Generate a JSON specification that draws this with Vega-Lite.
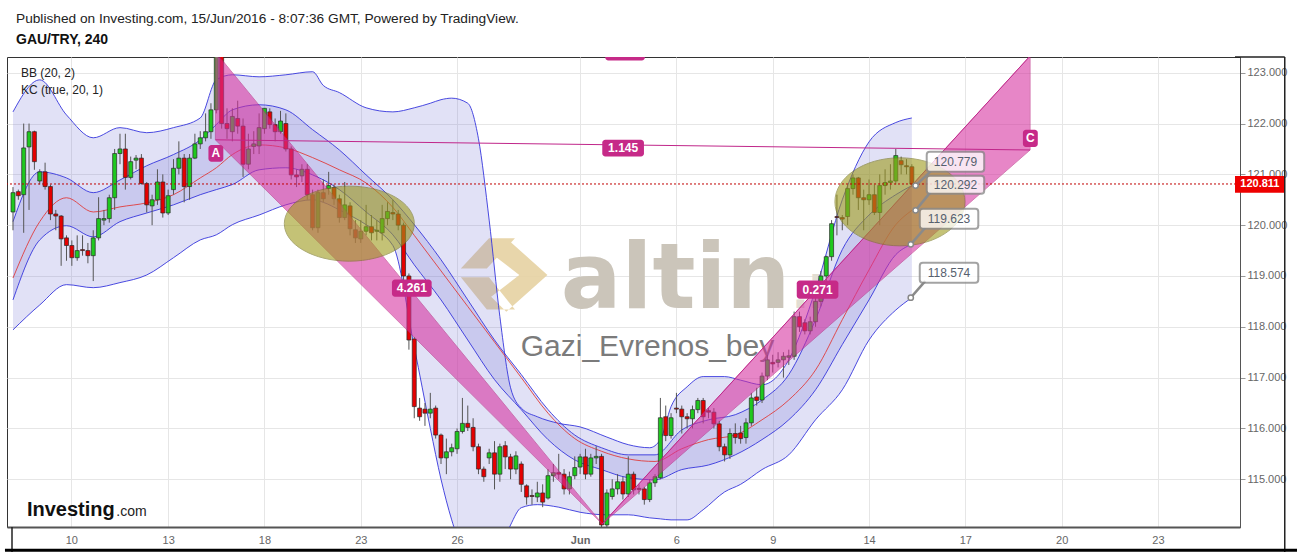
{
"$schema":"https://vega.github.io/schema/vega-lite/v6.json",
"width":1233,"height":470,
"autosize":{"type":"none"},
"padding":{"left":7,"top":57,"right":57,"bottom":25},
"background":"white",
"config":{"font":"Liberation Sans","view":{"stroke":"#333","strokeWidth":1}},
"title":{"text":"Published on Investing.com, 15/Jun/2016 - 8:07:36 GMT, Powered by TradingView.","subtitle":"GAU/TRY, 240","anchor":"start","frame":"group","dx":9,"offset":9,"fontSize":13.7,"fontWeight":"normal","font":"Liberation Sans","color":"#222","subtitleFontSize":14,"subtitleFontWeight":"bold","subtitleFont":"Liberation Sans","subtitleColor":"#111","subtitlePadding":8},
"datasets":{
"candles":[
{"i":0,"o":120.26,"h":120.75,"l":119.9,"c":120.64},{"i":1,"o":120.66,"h":120.7,"l":120.5,"c":120.58},{"i":2,"o":120.6,"h":122.0,"l":119.85,"c":121.52},{"i":3,"o":121.54,"h":122.0,"l":120.3,"c":121.84},{"i":4,"o":121.84,"h":121.86,"l":121.09,"c":121.25},{"i":5,"o":120.87,"h":121.1,"l":120.8,"c":121.05},{"i":6,"o":121.05,"h":121.23,"l":120.7,"c":120.76},{"i":7,"o":120.76,"h":120.8,"l":120.1,"c":120.22},{"i":8,"o":120.22,"h":120.3,"l":119.9,"c":120.18},{"i":9,"o":120.18,"h":120.2,"l":119.2,"c":119.73},
{"i":10,"o":119.75,"h":119.8,"l":119.3,"c":119.6},{"i":11,"o":119.6,"h":119.7,"l":119.2,"c":119.36},{"i":12,"o":119.36,"h":119.8,"l":119.3,"c":119.5},{"i":13,"o":119.52,"h":119.8,"l":119.4,"c":119.5},{"i":14,"o":119.5,"h":119.65,"l":119.25,"c":119.4},{"i":15,"o":119.4,"h":119.9,"l":118.9,"c":119.75},{"i":16,"o":119.75,"h":120.55,"l":119.7,"c":120.13},{"i":17,"o":120.1,"h":120.3,"l":120.0,"c":120.13},{"i":18,"o":120.13,"h":120.6,"l":120.05,"c":120.54},{"i":19,"o":120.54,"h":121.5,"l":120.3,"c":121.41},
{"i":20,"o":121.41,"h":121.8,"l":121.2,"c":121.5},{"i":21,"o":121.5,"h":121.8,"l":120.7,"c":120.94},{"i":22,"o":120.94,"h":121.35,"l":120.9,"c":121.25},{"i":23,"o":121.28,"h":121.38,"l":121.1,"c":121.32},{"i":24,"o":121.32,"h":121.4,"l":120.8,"c":120.82},{"i":25,"o":120.82,"h":120.85,"l":120.25,"c":120.4},{"i":26,"o":120.38,"h":120.6,"l":120.0,"c":120.5},{"i":27,"o":120.5,"h":121.1,"l":120.4,"c":120.85},{"i":28,"o":120.85,"h":121.0,"l":120.15,"c":120.24},{"i":29,"o":120.24,"h":120.7,"l":120.2,"c":120.58},
{"i":30,"o":120.7,"h":121.3,"l":120.6,"c":121.12},{"i":31,"o":121.12,"h":121.65,"l":121.0,"c":121.32},{"i":32,"o":121.32,"h":121.4,"l":120.45,"c":120.76},{"i":33,"o":120.76,"h":121.4,"l":120.5,"c":121.32},{"i":34,"o":121.32,"h":121.8,"l":121.3,"c":121.6},{"i":35,"o":121.6,"h":121.85,"l":121.5,"c":121.72},{"i":36,"o":121.72,"h":122.2,"l":121.65,"c":121.84},{"i":37,"o":121.84,"h":122.4,"l":121.7,"c":122.27},{"i":38,"o":122.27,"h":123.5,"l":122.2,"c":123.35},{"i":39,"o":123.35,"h":123.5,"l":121.9,"c":122.0},
{"i":40,"o":122.0,"h":122.3,"l":121.7,"c":121.9},{"i":41,"o":121.84,"h":122.3,"l":121.65,"c":122.14},{"i":42,"o":122.1,"h":122.45,"l":121.8,"c":121.95},{"i":43,"o":121.95,"h":122.1,"l":120.95,"c":121.2},{"i":44,"o":121.2,"h":121.8,"l":121.1,"c":121.5},{"i":45,"o":121.55,"h":121.85,"l":121.4,"c":121.6},{"i":46,"o":121.56,"h":122.2,"l":121.4,"c":121.92},{"i":47,"o":121.9,"h":122.3,"l":121.8,"c":122.3},{"i":48,"o":122.23,"h":122.3,"l":121.9,"c":121.98},{"i":49,"o":121.98,"h":122.1,"l":121.65,"c":121.84},
{"i":50,"o":121.84,"h":122.25,"l":121.8,"c":122.05},{"i":51,"o":122.0,"h":122.2,"l":121.45,"c":121.5},{"i":52,"o":121.5,"h":121.55,"l":120.9,"c":120.99},{"i":53,"o":120.99,"h":121.1,"l":120.75,"c":120.95},{"i":54,"o":120.97,"h":121.2,"l":120.85,"c":121.1},{"i":55,"o":121.1,"h":121.2,"l":120.5,"c":120.6},{"i":56,"o":120.6,"h":120.7,"l":119.9,"c":119.95},{"i":57,"o":119.95,"h":120.7,"l":119.85,"c":120.64},{"i":58,"o":120.64,"h":120.9,"l":120.45,"c":120.52},{"i":59,"o":120.72,"h":121.05,"l":120.6,"c":120.78},
{"i":60,"o":120.74,"h":120.8,"l":120.4,"c":120.52},{"i":61,"o":120.52,"h":120.6,"l":120.05,"c":120.15},{"i":62,"o":120.15,"h":120.85,"l":120.1,"c":120.4},{"i":63,"o":120.38,"h":120.45,"l":119.8,"c":119.93},{"i":64,"o":119.91,"h":120.1,"l":119.65,"c":119.75},{"i":65,"o":119.73,"h":120.1,"l":119.65,"c":119.88},{"i":66,"o":119.88,"h":120.4,"l":119.8,"c":119.97},{"i":67,"o":119.97,"h":120.2,"l":119.7,"c":119.85},{"i":68,"o":119.88,"h":120.1,"l":119.7,"c":119.9},{"i":69,"o":119.85,"h":120.4,"l":119.7,"c":120.13},
{"i":70,"o":120.13,"h":120.45,"l":120.0,"c":120.27},{"i":71,"o":120.25,"h":120.5,"l":120.1,"c":120.22},{"i":72,"o":120.22,"h":120.3,"l":119.9,"c":120.0},{"i":73,"o":120.0,"h":120.05,"l":118.9,"c":119.0},{"i":74,"o":119.0,"h":119.05,"l":117.55,"c":117.74},{"i":75,"o":117.76,"h":117.8,"l":116.2,"c":116.43},{"i":76,"o":116.4,"h":116.6,"l":116.15,"c":116.23},{"i":77,"o":116.38,"h":116.5,"l":116.05,"c":116.3},{"i":78,"o":116.3,"h":116.7,"l":116.2,"c":116.38},{"i":79,"o":116.4,"h":116.45,"l":115.8,"c":115.87},
{"i":80,"o":115.87,"h":115.9,"l":115.3,"c":115.42},{"i":81,"o":115.42,"h":115.8,"l":115.1,"c":115.54},{"i":82,"o":115.54,"h":115.7,"l":115.45,"c":115.62},{"i":83,"o":115.6,"h":116.0,"l":115.5,"c":115.94},{"i":84,"o":115.94,"h":116.6,"l":115.9,"c":116.1},{"i":85,"o":116.1,"h":116.45,"l":115.95,"c":116.02},{"i":86,"o":116.02,"h":116.2,"l":115.55,"c":115.64},{"i":87,"o":115.64,"h":115.7,"l":115.1,"c":115.2},{"i":88,"o":115.2,"h":115.25,"l":114.95,"c":115.05},{"i":89,"o":115.42,"h":115.6,"l":115.3,"c":115.52},
{"i":90,"o":115.52,"h":115.75,"l":114.8,"c":115.1},{"i":91,"o":115.1,"h":115.7,"l":114.95,"c":115.64},{"i":92,"o":115.66,"h":115.75,"l":115.2,"c":115.44},{"i":93,"o":115.44,"h":115.5,"l":115.0,"c":115.2},{"i":94,"o":115.2,"h":115.55,"l":115.1,"c":115.46},{"i":95,"o":115.3,"h":115.35,"l":114.75,"c":114.9},{"i":96,"o":114.87,"h":114.9,"l":114.5,"c":114.65},{"i":97,"o":114.68,"h":114.8,"l":114.5,"c":114.66},{"i":98,"o":114.65,"h":114.95,"l":114.55,"c":114.73},{"i":99,"o":114.73,"h":114.9,"l":114.45,"c":114.55},
{"i":100,"o":114.63,"h":115.2,"l":114.6,"c":115.07},{"i":101,"o":115.07,"h":115.3,"l":114.95,"c":115.13},{"i":102,"o":115.13,"h":115.5,"l":115.0,"c":115.1},{"i":103,"o":115.1,"h":115.2,"l":114.7,"c":114.81},{"i":104,"o":114.81,"h":115.15,"l":114.7,"c":115.05},{"i":105,"o":115.07,"h":115.45,"l":115.0,"c":115.23},{"i":106,"o":115.24,"h":115.5,"l":115.1,"c":115.44},{"i":107,"o":115.44,"h":115.6,"l":115.0,"c":115.1},{"i":108,"o":115.1,"h":115.5,"l":115.05,"c":115.42},{"i":109,"o":115.42,"h":115.65,"l":115.3,"c":115.45},
{"i":110,"o":115.45,"h":115.5,"l":114.0,"c":114.1},{"i":111,"o":114.1,"h":114.8,"l":114.0,"c":114.73},{"i":112,"o":114.66,"h":115.0,"l":114.6,"c":114.81},{"i":113,"o":114.81,"h":115.1,"l":114.7,"c":114.95},{"i":114,"o":114.95,"h":115.05,"l":114.6,"c":114.71},{"i":115,"o":114.71,"h":115.45,"l":114.65,"c":115.1},{"i":116,"o":115.1,"h":115.15,"l":114.7,"c":114.79},{"i":117,"o":114.82,"h":114.9,"l":114.7,"c":114.8},{"i":118,"o":114.81,"h":114.85,"l":114.5,"c":114.6},{"i":119,"o":114.6,"h":115.0,"l":114.55,"c":114.93},
{"i":120,"o":114.93,"h":115.1,"l":114.85,"c":115.05},{"i":121,"o":115.03,"h":116.6,"l":115.0,"c":116.21},{"i":122,"o":116.23,"h":116.45,"l":115.75,"c":115.86},{"i":123,"o":115.86,"h":116.3,"l":115.8,"c":116.21},{"i":124,"o":116.4,"h":116.7,"l":116.3,"c":116.38},{"i":125,"o":116.38,"h":116.45,"l":115.9,"c":116.23},{"i":126,"o":116.23,"h":116.3,"l":116.0,"c":116.19},{"i":127,"o":116.19,"h":116.45,"l":116.0,"c":116.37},{"i":128,"o":116.37,"h":116.6,"l":116.3,"c":116.55},{"i":129,"o":116.55,"h":116.6,"l":116.1,"c":116.23},
{"i":130,"o":116.35,"h":116.4,"l":116.2,"c":116.32},{"i":131,"o":116.32,"h":116.4,"l":116.0,"c":116.09},{"i":132,"o":116.09,"h":116.15,"l":115.55,"c":115.64},{"i":133,"o":115.64,"h":115.7,"l":115.35,"c":115.48},{"i":134,"o":115.48,"h":116.0,"l":115.4,"c":115.9},{"i":135,"o":115.9,"h":116.1,"l":115.7,"c":115.82},{"i":136,"o":115.91,"h":116.05,"l":115.7,"c":115.8},{"i":137,"o":115.82,"h":116.2,"l":115.7,"c":116.11},{"i":138,"o":116.11,"h":116.7,"l":116.05,"c":116.6},{"i":139,"o":116.62,"h":116.8,"l":116.45,"c":116.55},
{"i":140,"o":116.56,"h":117.1,"l":116.5,"c":117.03},{"i":141,"o":117.03,"h":117.45,"l":116.95,"c":117.35},{"i":142,"o":117.3,"h":117.45,"l":117.1,"c":117.27},{"i":143,"o":117.3,"h":117.5,"l":117.2,"c":117.35},{"i":144,"o":117.35,"h":117.5,"l":117.0,"c":117.42},{"i":145,"o":117.4,"h":117.55,"l":117.25,"c":117.43},{"i":146,"o":117.42,"h":118.3,"l":117.35,"c":118.2},{"i":147,"o":118.2,"h":118.3,"l":117.9,"c":118.0},{"i":148,"o":118.08,"h":118.15,"l":117.85,"c":117.92},{"i":149,"o":117.92,"h":118.2,"l":117.85,"c":118.1},
{"i":150,"o":118.1,"h":118.6,"l":118.0,"c":118.5},{"i":151,"o":118.5,"h":119.1,"l":118.4,"c":119.0},{"i":152,"o":119.0,"h":119.4,"l":118.9,"c":119.38},{"i":153,"o":119.38,"h":120.1,"l":119.3,"c":120.03},{"i":154,"o":120.17,"h":120.6,"l":119.8,"c":120.15},{"i":155,"o":120.15,"h":120.2,"l":119.9,"c":120.12},{"i":156,"o":120.17,"h":120.8,"l":120.0,"c":120.72},{"i":157,"o":120.72,"h":121.0,"l":120.6,"c":120.93},{"i":158,"o":120.93,"h":120.95,"l":120.3,"c":120.54},{"i":159,"o":120.54,"h":120.7,"l":119.9,"c":120.5},
{"i":160,"o":120.5,"h":120.9,"l":120.4,"c":120.6},{"i":161,"o":120.6,"h":120.8,"l":120.2,"c":120.25},{"i":162,"o":120.25,"h":121.0,"l":120.0,"c":120.78},{"i":163,"o":120.78,"h":121.1,"l":120.6,"c":120.84},{"i":164,"o":120.84,"h":121.2,"l":120.7,"c":120.87},{"i":165,"o":120.87,"h":121.5,"l":120.8,"c":121.37},{"i":166,"o":121.27,"h":121.35,"l":121.0,"c":121.19},{"i":167,"o":121.17,"h":121.3,"l":121.0,"c":121.15},{"i":168,"o":121.15,"h":121.2,"l":120.75,"c":120.81}
],
"bb":[
{"i":0,"u":122.23,"l":117.94},{"i":5,"u":122.86,"l":118.43},{"i":10,"u":122.17,"l":118.83},{"i":15,"u":121.72,"l":118.77},{"i":20,"u":121.92,"l":118.87},{"i":25,"u":121.82,"l":119.02},{"i":30,"u":121.92,"l":119.36},{"i":35,"u":122.11,"l":119.71},{"i":38,"u":122.86,"l":119.81},{"i":41,"u":122.96,"l":120.01},{"i":46,"u":122.92,"l":120.2},{"i":51,"u":122.96,"l":120.4},{"i":56,"u":123.02,"l":120.5},{"i":58,"u":122.75,"l":120.45},{"i":61,"u":122.61,"l":120.3},{"i":66,"u":122.31,"l":120.01},{"i":71,"u":122.23,"l":119.6},{"i":75,"u":122.31,"l":117.6},{"i":78,"u":122.4,"l":116.0},{"i":80,"u":122.47,"l":115.0},{"i":82,"u":122.5,"l":114.2},{"i":85,"u":122.4,"l":113.4},{"i":87,"u":121.7,"l":113.3},{"i":89,"u":120.1,"l":113.3},{"i":91,"u":118.2,"l":113.6},{"i":93,"u":116.8,"l":114.1},{"i":95,"u":116.4,"l":114.44},{"i":98,"u":116.23,"l":114.5},{"i":102,"u":116.1,"l":114.45},{"i":106,"u":116.03,"l":114.35},{"i":111,"u":115.83,"l":114.3},{"i":115,"u":115.68,"l":114.3},{"i":119,"u":115.62,"l":114.24},{"i":121,"u":115.78,"l":114.22},{"i":123,"u":116.43,"l":114.2},{"i":126,"u":116.82,"l":114.2},{"i":129,"u":117.02,"l":114.4},{"i":133,"u":117.02,"l":114.75},{"i":136,"u":116.95,"l":114.9},{"i":140,"u":116.86,"l":115.19},{"i":145,"u":117.35,"l":115.48},{"i":150,"u":118.73,"l":116.17},{"i":155,"u":120.5,"l":116.76},{"i":160,"u":121.64,"l":117.74},{"i":165,"u":122.02,"l":118.33},{"i":168,"u":122.11,"l":118.574}
],
"kc":[
{"i":0,"u":120.07,"m":118.96,"l":118.53},{"i":5,"u":121.05,"m":120.07,"l":119.71},{"i":10,"u":120.93,"m":120.54,"l":119.99},{"i":15,"u":120.64,"m":120.26,"l":119.77},{"i":20,"u":120.89,"m":120.36,"l":120.07},{"i":25,"u":121.17,"m":120.44,"l":120.24},{"i":30,"u":121.39,"m":120.6,"l":120.4},{"i":35,"u":121.68,"m":120.93,"l":120.6},{"i":38,"u":121.98,"m":121.13,"l":120.7},{"i":41,"u":122.27,"m":121.39,"l":120.8},{"i":46,"u":122.37,"m":121.58,"l":121.09},{"i":51,"u":122.27,"m":121.52,"l":121.13},{"i":56,"u":121.88,"m":121.33,"l":120.99},{"i":61,"u":121.48,"m":121.09,"l":120.7},{"i":66,"u":120.99,"m":120.83,"l":120.26},{"i":71,"u":120.5,"m":120.35,"l":119.81},{"i":75,"u":120.01,"m":119.8,"l":119.22},{"i":80,"u":119.32,"m":119.1,"l":118.53},{"i":85,"u":118.53,"m":118.4,"l":117.74},{"i":90,"u":117.74,"m":117.7,"l":116.96},{"i":95,"u":117.06,"m":117.0,"l":116.37},{"i":100,"u":116.37,"m":116.3,"l":115.78},{"i":105,"u":115.87,"m":115.8,"l":115.38},{"i":110,"u":115.62,"m":115.55,"l":115.19},{"i":115,"u":115.48,"m":115.4,"l":115.03},{"i":120,"u":115.48,"m":115.35,"l":114.99},{"i":125,"u":115.97,"m":115.6,"l":115.19},{"i":130,"u":116.17,"m":115.78,"l":115.28},{"i":135,"u":116.27,"m":115.87,"l":115.48},{"i":140,"u":116.56,"m":116.17,"l":115.78},{"i":145,"u":117.06,"m":116.56,"l":116.17},{"i":150,"u":118.14,"m":117.15,"l":116.76},{"i":155,"u":119.52,"m":118.14,"l":117.65},{"i":160,"u":120.2,"m":119.12,"l":118.53},{"i":165,"u":120.6,"m":120.01,"l":119.42},{"i":168,"u":120.779,"m":120.292,"l":119.623}
],
"tri":[
{"g":"XAB","i":37.83,"hi":123.41,"lo":121.68},{"g":"XAB","i":110.14,"hi":114.12,"lo":114.12},
{"g":"BCD","i":110.14,"hi":114.12,"lo":114.12},{"g":"BCD","i":190.1,"hi":123.33,"lo":121.48}
],
"plines":[
{"i":37.83,"p":121.68,"i2":190.1,"p2":121.48},
{"i":110.14,"p":114.12,"i2":190.1,"p2":123.33}
],
"plabels":[
{"t":"4.261","i0":70.83,"i1":78.25,"p0":118.59,"p1":118.93,"i":74.54,"p":118.76},
{"t":"1.145","i0":110.14,"i1":117.93,"p0":121.35,"p1":121.68,"i":114.04,"p":121.51},
{"t":"0.271","i0":146.49,"i1":154.27,"p0":118.55,"p1":118.91,"i":150.38,"p":118.73},
{"t":"A","i0":36.53,"i1":39.31,"p0":121.25,"p1":121.58,"i":37.92,"p":121.42},
{"t":"C","i0":188.76,"i1":191.54,"p0":121.54,"p1":121.88,"i":190.15,"p":121.71},
{"t":"1.003","i0":110.7,"i1":118.1,"p0":123.24,"p1":123.57,"i":114.4,"p":123.4}
],
"callouts":[
{"t":"120.779","v":120.779,"di":168.7,"li":171.5,"lp":121.06,"i0":170.78,"i1":181.53,"p0":121.051,"p1":121.445,"i":176.16,"p":121.25},
{"t":"120.292","v":120.292,"di":168.7,"li":171.5,"lp":120.65,"i0":170.78,"i1":181.53,"p0":120.618,"p1":120.972,"i":176.16,"p":120.795},
{"t":"119.623","v":119.623,"di":167.8,"li":170.5,"lp":119.95,"i0":169.48,"i1":180.42,"p0":119.929,"p1":120.323,"i":174.95,"p":120.126},
{"t":"118.574","v":118.574,"di":167.8,"li":170.5,"lp":118.9,"i0":169.48,"i1":180.42,"p0":118.866,"p1":119.26,"i":174.95,"p":119.063}
]
},
"layer":[
{"data":{"values":[{"i":102.4,"p":118.37,"t":"altin"}]},
 "mark":{"type":"text","fontSize":90,"font":"DejaVu Sans","fontWeight":"bold","color":"#cbc5ba","align":"left","baseline":"alphabetic"},
 "encoding":{"x":{"field":"i","type":"quantitative","scale":{"domain":[-0.185,228.4],"nice":false,"zero":false},
   "axis":{"values":[10.9,29,47,65,83,106,124,142,160,178,196,214],"labelExpr":"datum.value < 20 ? '10' : datum.value < 38 ? '13' : datum.value < 56 ? '18' : datum.value < 74 ? '23' : datum.value < 94 ? '26' : datum.value < 115 ? 'Jun' : datum.value < 133 ? '6' : datum.value < 151 ? '9' : datum.value < 169 ? '14' : datum.value < 187 ? '17' : datum.value < 205 ? '20' : '23'","title":null,"grid":true,"gridColor":"#e6e6e6","ticks":false,"domainColor":"#555","domainWidth":2,"labelColor":"#666","labelFontSize":11,"labelPadding":7,"labelFontWeight":{"condition":{"test":"datum.value == 106","value":"bold"},"value":"normal"}}},
  "y":{"field":"p","type":"quantitative","scale":{"domain":[114.06,123.31],"nice":false,"zero":false},
   "axis":{"orient":"right","values":[115,116,117,118,119,120,121,122,123],"format":".3f","title":null,"grid":true,"gridColor":"#e6e6e6","tickSize":5,"tickColor":"#999","domainColor":"#555","labelColor":"#666","labelFontSize":11,"labelPadding":2}},
  "text":{"field":"t"}}},
{"data":{"values":[{"i":145.6,"p":118.37,"t":".i"}]},
 "mark":{"type":"text","fontSize":44,"font":"DejaVu Sans","fontWeight":"bold","color":"#e2ddd2","align":"left","baseline":"alphabetic"},
 "encoding":{"x":{"field":"i","type":"quantitative","scale":{"domain":[-0.185,228.4],"nice":false,"zero":false}},
  "y":{"field":"p","type":"quantitative","scale":{"domain":[114.06,123.31],"nice":false,"zero":false}},
  "text":{"field":"t"}}},
{"data":{"values":[{"i":94.9,"p":117.43,"t":"Gazi_Evrenos_bey"}]},
 "mark":{"type":"text","fontSize":30,"color":"#7b7b7b","align":"left","baseline":"alphabetic"},
 "encoding":{"x":{"field":"i","type":"quantitative","scale":{"domain":[-0.185,228.4],"nice":false,"zero":false}},
  "y":{"field":"p","type":"quantitative","scale":{"domain":[114.06,123.31],"nice":false,"zero":false}},
  "text":{"field":"t"}}},
{"data":{"values":[{"i":91.8,"p":119.02}]},
 "mark":{"type":"point","shape":"M-1,-0.15L-0.35,-0.85L0.25,-0.85L-0.4,-0.15Z M-1,0.05L-0.4,0.8L0.25,0.8L-0.35,0.05Z M0.05,-0.85L1,0L0.05,0.85L-0.3,0.5L0.35,0L-0.3,-0.5Z","size":7500,"filled":true,"color":"#e6d2a2","opacity":0.9},
 "encoding":{"x":{"field":"i","type":"quantitative","scale":{"domain":[-0.185,228.4],"nice":false,"zero":false}},
  "y":{"field":"p","type":"quantitative","scale":{"domain":[114.06,123.31],"nice":false,"zero":false}}}},
{"data":{"name":"bb"},
 "mark":{"type":"area","color":"#6a6ad4","opacity":0.2,"clip":true,"interpolate":"monotone"},
 "encoding":{"x":{"field":"i","type":"quantitative","scale":{"domain":[-0.185,228.4],"nice":false,"zero":false}},
  "y":{"field":"u","type":"quantitative","scale":{"domain":[114.06,123.31],"nice":false,"zero":false}},
  "y2":{"field":"l"}}},
{"data":{"name":"kc"},
 "mark":{"type":"area","color":"#6a6ad4","opacity":0.2,"clip":true,"interpolate":"monotone"},
 "encoding":{"x":{"field":"i","type":"quantitative","scale":{"domain":[-0.185,228.4],"nice":false,"zero":false}},
  "y":{"field":"u","type":"quantitative","scale":{"domain":[114.06,123.31],"nice":false,"zero":false}},
  "y2":{"field":"l"}}},
{"data":{"name":"bb"},
 "transform":[{"fold":["u","l"],"as":["k","v"]}],
 "mark":{"type":"line","color":"#3535dc","strokeWidth":0.9,"clip":true,"interpolate":"monotone"},
 "encoding":{"x":{"field":"i","type":"quantitative","scale":{"domain":[-0.185,228.4],"nice":false,"zero":false}},
  "y":{"field":"v","type":"quantitative","scale":{"domain":[114.06,123.31],"nice":false,"zero":false}},
  "detail":{"field":"k"}}},
{"data":{"name":"kc"},
 "transform":[{"fold":["u","l"],"as":["k","v"]}],
 "mark":{"type":"line","color":"#3535dc","strokeWidth":0.9,"clip":true,"interpolate":"monotone"},
 "encoding":{"x":{"field":"i","type":"quantitative","scale":{"domain":[-0.185,228.4],"nice":false,"zero":false}},
  "y":{"field":"v","type":"quantitative","scale":{"domain":[114.06,123.31],"nice":false,"zero":false}},
  "detail":{"field":"k"}}},
{"data":{"name":"kc"},
 "mark":{"type":"line","color":"#e03c3c","strokeWidth":0.9,"clip":true,"interpolate":"monotone"},
 "encoding":{"x":{"field":"i","type":"quantitative","scale":{"domain":[-0.185,228.4],"nice":false,"zero":false}},
  "y":{"field":"m","type":"quantitative","scale":{"domain":[114.06,123.31],"nice":false,"zero":false}}}},
{"data":{"name":"candles"},
 "mark":{"type":"rule","color":"#555","strokeWidth":1,"clip":true},
 "encoding":{"x":{"field":"i","type":"quantitative","scale":{"domain":[-0.185,228.4],"nice":false,"zero":false}},
  "y":{"field":"l","type":"quantitative","scale":{"domain":[114.06,123.31],"nice":false,"zero":false}},
  "y2":{"field":"h"}}},
{"data":{"name":"candles"},
 "mark":{"type":"bar","width":4,"stroke":"#2a2a2a","strokeWidth":0.7,"clip":true,"orient":"vertical"},
 "encoding":{"x":{"field":"i","type":"quantitative","scale":{"domain":[-0.185,228.4],"nice":false,"zero":false}},
  "y":{"field":"o","type":"quantitative","scale":{"domain":[114.06,123.31],"nice":false,"zero":false}},
  "y2":{"field":"c"},
  "color":{"condition":{"test":"datum.c >= datum.o","value":"#1fc81f"},"value":"#e50000"}}},
{"data":{"name":"tri"},
 "mark":{"type":"area","color":"#d6309f","opacity":0.58,"stroke":"#b8207f","strokeWidth":1,"clip":true},
 "encoding":{"x":{"field":"i","type":"quantitative","scale":{"domain":[-0.185,228.4],"nice":false,"zero":false}},
  "y":{"field":"hi","type":"quantitative","scale":{"domain":[114.06,123.31],"nice":false,"zero":false}},
  "y2":{"field":"lo"},"detail":{"field":"g"}}},
{"data":{"name":"plines"},
 "mark":{"type":"rule","color":"#c0268a","strokeWidth":1,"clip":true},
 "encoding":{"x":{"field":"i","type":"quantitative","scale":{"domain":[-0.185,228.4],"nice":false,"zero":false}},
  "y":{"field":"p","type":"quantitative","scale":{"domain":[114.06,123.31],"nice":false,"zero":false}},
  "x2":{"field":"i2"},"y2":{"field":"p2"}}},
{"data":{"values":[{"i":62.86,"p":120.03}]},
 "mark":{"type":"point","shape":"M-1,0A1,0.577,0,1,1,1,0A1,0.577,0,1,1,-1,0Z","size":16900,"filled":true,"color":"#9e9a1c","opacity":0.6,"stroke":"#76741a","strokeWidth":1},
 "encoding":{"x":{"field":"i","type":"quantitative","scale":{"domain":[-0.185,228.4],"nice":false,"zero":false}},
  "y":{"field":"p","type":"quantitative","scale":{"domain":[114.06,123.31],"nice":false,"zero":false}}}},
{"data":{"values":[{"i":165.77,"p":120.46}]},
 "mark":{"type":"point","shape":"M-1,0A1,0.677,0,1,1,1,0A1,0.677,0,1,1,-1,0Z","size":16900,"filled":true,"color":"#9e9a1c","opacity":0.6,"stroke":"#76741a","strokeWidth":1},
 "encoding":{"x":{"field":"i","type":"quantitative","scale":{"domain":[-0.185,228.4],"nice":false,"zero":false}},
  "y":{"field":"p","type":"quantitative","scale":{"domain":[114.06,123.31],"nice":false,"zero":false}}}},
{"data":{"values":[{"p":120.811}]},
 "mark":{"type":"rule","color":"#c00000","strokeWidth":1,"strokeDash":[2,2]},
 "encoding":{"y":{"field":"p","type":"quantitative","scale":{"domain":[114.06,123.31],"nice":false,"zero":false}}}},
{"data":{"name":"plabels"},
 "mark":{"type":"rect","color":"#c62a88","cornerRadius":3,"clip":true},
 "encoding":{"x":{"field":"i0","type":"quantitative","scale":{"domain":[-0.185,228.4],"nice":false,"zero":false}},
  "x2":{"field":"i1"},
  "y":{"field":"p0","type":"quantitative","scale":{"domain":[114.06,123.31],"nice":false,"zero":false}},
  "y2":{"field":"p1"}}},
{"data":{"name":"plabels"},
 "mark":{"type":"text","color":"white","fontSize":12,"fontWeight":"bold","clip":true},
 "encoding":{"x":{"field":"i","type":"quantitative","scale":{"domain":[-0.185,228.4],"nice":false,"zero":false}},
  "y":{"field":"p","type":"quantitative","scale":{"domain":[114.06,123.31],"nice":false,"zero":false}},
  "text":{"field":"t"}}},
{"data":{"name":"callouts"},
 "mark":{"type":"rule","color":"#8a8a8a","strokeWidth":2.5},
 "encoding":{"x":{"field":"di","type":"quantitative","scale":{"domain":[-0.185,228.4],"nice":false,"zero":false}},
  "y":{"field":"v","type":"quantitative","scale":{"domain":[114.06,123.31],"nice":false,"zero":false}},
  "x2":{"field":"li"},"y2":{"field":"lp"}}},
{"data":{"name":"callouts"},
 "mark":{"type":"point","filled":true,"color":"white","stroke":"#888","strokeWidth":1.5,"size":28,"opacity":1},
 "encoding":{"x":{"field":"di","type":"quantitative","scale":{"domain":[-0.185,228.4],"nice":false,"zero":false}},
  "y":{"field":"v","type":"quantitative","scale":{"domain":[114.06,123.31],"nice":false,"zero":false}}}},
{"data":{"name":"callouts"},
 "mark":{"type":"rect","color":"white","opacity":0.78,"stroke":"#8a8a8a","strokeWidth":2,"strokeOpacity":1,"cornerRadius":3},
 "encoding":{"x":{"field":"i0","type":"quantitative","scale":{"domain":[-0.185,228.4],"nice":false,"zero":false}},
  "x2":{"field":"i1"},
  "y":{"field":"p0","type":"quantitative","scale":{"domain":[114.06,123.31],"nice":false,"zero":false}},
  "y2":{"field":"p1"}}},
{"data":{"name":"callouts"},
 "mark":{"type":"text","color":"#56606e","fontSize":12},
 "encoding":{"x":{"field":"i","type":"quantitative","scale":{"domain":[-0.185,228.4],"nice":false,"zero":false}},
  "y":{"field":"p","type":"quantitative","scale":{"domain":[114.06,123.31],"nice":false,"zero":false}},
  "text":{"field":"t"}}},
{"data":{"values":[{"i":1.48,"p":122.92,"t":"BB (20, 2)"},{"i":1.48,"p":122.59,"t":"KC (true, 20, 1)"}]},
 "mark":{"type":"text","color":"#222","fontSize":12,"align":"left","baseline":"alphabetic"},
 "encoding":{"x":{"field":"i","type":"quantitative","scale":{"domain":[-0.185,228.4],"nice":false,"zero":false}},
  "y":{"field":"p","type":"quantitative","scale":{"domain":[114.06,123.31],"nice":false,"zero":false}},
  "text":{"field":"t"}}},
{"data":{"values":[{"i":2.6,"p":114.28,"t":"Investing"}]},
 "mark":{"type":"text","color":"#111","fontSize":20,"fontWeight":"bold","align":"left","baseline":"alphabetic"},
 "encoding":{"x":{"field":"i","type":"quantitative","scale":{"domain":[-0.185,228.4],"nice":false,"zero":false}},
  "y":{"field":"p","type":"quantitative","scale":{"domain":[114.06,123.31],"nice":false,"zero":false}},
  "text":{"field":"t"}}},
{"data":{"values":[{"i":19.3,"p":114.28,"t":".com"}]},
 "mark":{"type":"text","color":"#222","fontSize":14,"align":"left","baseline":"alphabetic"},
 "encoding":{"x":{"field":"i","type":"quantitative","scale":{"domain":[-0.185,228.4],"nice":false,"zero":false}},
  "y":{"field":"p","type":"quantitative","scale":{"domain":[114.06,123.31],"nice":false,"zero":false}},
  "text":{"field":"t"}}},
{"data":{"values":[{"a":228.4,"b":237.7,"p":120.64,"q":120.97}]},
 "mark":{"type":"rect","color":"#ee0000"},
 "encoding":{"x":{"field":"a","type":"quantitative","scale":{"domain":[-0.185,228.4],"nice":false,"zero":false}},
  "x2":{"field":"b"},
  "y":{"field":"p","type":"quantitative","scale":{"domain":[114.06,123.31],"nice":false,"zero":false}},
  "y2":{"field":"q"}}},
{"data":{"values":[{"i":233.05,"p":120.805,"t":"120.811"}]},
 "mark":{"type":"text","color":"white","fontSize":11,"fontWeight":"bold"},
 "encoding":{"x":{"field":"i","type":"quantitative","scale":{"domain":[-0.185,228.4],"nice":false,"zero":false}},
  "y":{"field":"p","type":"quantitative","scale":{"domain":[114.06,123.31],"nice":false,"zero":false}},
  "text":{"field":"t"}}},
{"data":{"values":[{"a":237.7,"b":237.7,"p":123.31,"q":113.57},{"a":228.4,"b":237.7,"p":123.31,"q":123.31},{"a":-0.185,"b":-0.185,"p":114.06,"q":113.57}]},
 "mark":{"type":"rule","color":"#222","strokeWidth":1.5},
 "encoding":{"x":{"field":"a","type":"quantitative","scale":{"domain":[-0.185,228.4],"nice":false,"zero":false}},
  "x2":{"field":"b"},
  "y":{"field":"p","type":"quantitative","scale":{"domain":[114.06,123.31],"nice":false,"zero":false}},
  "y2":{"field":"q"}}},
{"data":{"values":[{"a":-1.5,"b":241,"p":113.6}]},
 "mark":{"type":"rule","color":"#000","strokeWidth":3},
 "encoding":{"x":{"field":"a","type":"quantitative","scale":{"domain":[-0.185,228.4],"nice":false,"zero":false}},
  "x2":{"field":"b"},
  "y":{"field":"p","type":"quantitative","scale":{"domain":[114.06,123.31],"nice":false,"zero":false}}}}
]
}
